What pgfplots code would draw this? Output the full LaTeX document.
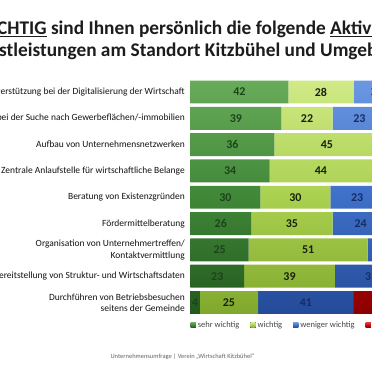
\documentclass[border=0pt]{standalone}
\usepackage{pgfplots}
\pgfplotsset{compat=1.18}
\usepackage{pgfplotstable}
\usepackage{fontspec}
\setmainfont{Carlito}

\definecolor{dg}{RGB}{64,135,56}
\definecolor{dgd}{RGB}{34,88,30}
\definecolor{dgl}{RGB}{104,172,90}
\definecolor{lg}{RGB}{170,208,80}
\definecolor{lgd}{RGB}{128,168,44}
\definecolor{lgl}{RGB}{208,234,134}
\definecolor{bl}{RGB}{62,112,200}
\definecolor{bld}{RGB}{36,74,152}
\definecolor{bll}{RGB}{108,152,226}
\definecolor{rd}{RGB}{196,10,10}
\definecolor{rdd}{RGB}{140,0,0}
\definecolor{rdl}{RGB}{228,60,60}
\definecolor{tdg}{RGB}{28,68,28}
\definecolor{tlg}{RGB}{24,32,14}
\definecolor{tbl}{RGB}{24,44,100}
\definecolor{titlec}{RGB}{28,28,28}
\definecolor{labc}{RGB}{20,20,20}
\definecolor{legc}{RGB}{70,70,70}
\definecolor{footc}{RGB}{100,100,100}

\newcommand{\ul}[1]{\setbox0\hbox{#1}\rlap{\rule[-2.6bp]{\wd0}{1.5bp}}\box0\relax}

% y: 9 = top row, 1 = bottom row
\pgfplotstableread{
row a b c d
9 42 28 20 10
8 39 22 23 16
7 36 45 14 5
6 34 44 17 5
5 30 30 23 17
4 26 35 24 15
3 25 51 19 5
2 23 39 31 7
1 4 25 41 30
}\data

\begin{document}
\begin{tikzpicture}[x=1bp,y=1bp]
\useasboundingbox (0,0) rectangle (372,372);
\clip (0,0) rectangle (372,372);
\fill[white] (0,0) rectangle (372,372);

\node[anchor=base west, inner sep=0pt, font=\bfseries\fontsize{19.4}{21}\selectfont, text=titlec]
  at (-3,337.5) {\llap{Wie \ul{WI}}\ul{CHTIG} sind Ihnen persönlich die folgende \ul{Aktivitäten}/};
\node[anchor=base west, inner sep=0pt, font=\bfseries\fontsize{19.4}{21}\selectfont, text=titlec]
  at (-1,315.5) {\llap{Dien}stleistungen am Standort Kitzbühel und Umgebung?};

\begin{axis}[
  at={(190.5bp,56.35bp)}, anchor=south west,
  scale only axis, width=233bp, height=236.8bp,
  xbar stacked, bar width=0.87,
  xmin=0, xmax=100, ymin=0.5, ymax=9.5,
  axis line style={draw=none}, tick style={draw=none},
  xtick=\empty, ytick={1,2,3,4,5,6,7,8,9},
  yticklabels={
    {Durchführen von Betriebsbesuchen\\seitens der Gemeinde},
    {Bereitstellung von Struktur- und Wirtschaftsdaten},
    {Organisation von Unternehmertreffen/\\Kontaktvermittlung},
    {Fördermittelberatung},
    {Beratung von Existenzgründen},
    {Zentrale Anlaufstelle für wirtschaftliche Belange},
    {Aufbau von Unternehmensnetzwerken},
    {Unterstützung bei der Suche nach Gewerbeflächen/-immobilien},
    {Unterstützung bei der Digitalisierung der Wirtschaft}},
  yticklabel style={align=right, inner sep=0pt, xshift=-5.5bp,
    font=\fontsize{9.5}{11.5}\selectfont, text=labc},
  legend columns=4,
  legend style={at={(0,0)}, anchor=west, yshift=-9.35bp, draw=none, fill=none,
    inner sep=0pt, font=\fontsize{8.5}{10}\selectfont, text=legc,
    /tikz/every even column/.append style={column sep=9bp}},
  legend image code/.code={\fill[#1] (0bp,-2.6bp) rectangle (5.2bp,2.6bp);},
]
\addplot[draw=none, top color=dgl, bottom color=dgd, middle color=dg] table[x=a, y=row] {\data};
\addplot[draw=none, top color=lgl, bottom color=lgd, middle color=lg] table[x=b, y=row] {\data};
\addplot[draw=none, top color=bll, bottom color=bld, middle color=bl] table[x=c, y=row] {\data};
\addplot[draw=none, top color=rdl, bottom color=rdd, middle color=rd] table[x=d, y=row] {\data};
\legend{sehr wichtig, wichtig, weniger wichtig, gar nicht wichtig}
\end{axis}

\begin{axis}[
  at={(190.5bp,56.35bp)}, anchor=south west,
  scale only axis, width=233bp, height=236.8bp,
  xmin=0, xmax=100, ymin=0.5, ymax=9.5, hide axis, clip=false,
  point meta=explicit,
  /pgf/number format/assume math mode=true,
]
\addplot[draw=none, mark=none, nodes near coords,
  every node near coord/.style={anchor=center, inner sep=0pt, font=\bfseries\fontsize{12}{12}\selectfont, text=tdg}]
  table[x expr=\thisrow{a}/2, y=row, meta=a] {\data};
\addplot[draw=none, mark=none, nodes near coords,
  every node near coord/.style={anchor=center, inner sep=0pt, font=\bfseries\fontsize{12}{12}\selectfont, text=tlg}]
  table[x expr=\thisrow{a}+\thisrow{b}/2, y=row, meta=b] {\data};
\addplot[draw=none, mark=none, nodes near coords,
  every node near coord/.style={anchor=center, inner sep=0pt, font=\bfseries\fontsize{12}{12}\selectfont, text=tbl}]
  table[x expr=\thisrow{a}+\thisrow{b}+\thisrow{c}/2, y=row, meta=c] {\data};
\addplot[draw=none, mark=none, nodes near coords,
  every node near coord/.style={anchor=center, inner sep=0pt, font=\bfseries\fontsize{12}{12}\selectfont, text=white}]
  table[x expr=\thisrow{a}+\thisrow{b}+\thisrow{c}+\thisrow{d}/2, y=row, meta=d] {\data};
\end{axis}

\node[anchor=center, inner sep=0pt, font=\fontsize{6.5}{7}\selectfont, text=footc]
  at (182.5,15.3) {Unternehmensumfrage | Verein „Wirtschaft Kitzbühel“};
\end{tikzpicture}
\end{document}
